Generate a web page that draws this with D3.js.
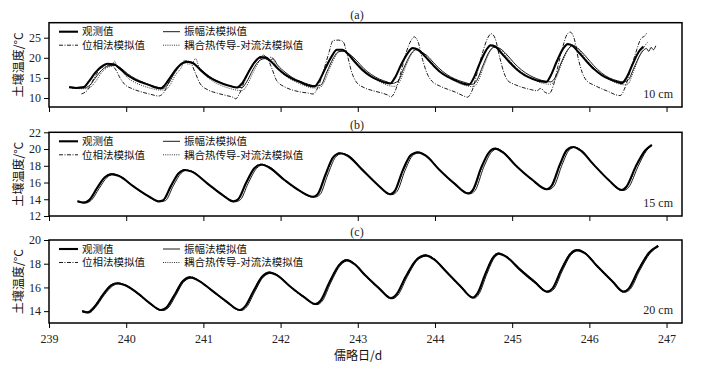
<!DOCTYPE html>
<html>
<head>
<meta charset="utf-8">
<script src="https://cdn.jsdelivr.net/npm/d3@7/dist/d3.min.js"></script>
<style>
  body { margin: 0; background: #fff; }
  svg { display: block; font-family: "Liberation Serif", "Times New Roman", serif; }
  .cn { font-family: "Noto Sans CJK SC", sans-serif; }
</style>
</head>
<body>
<div id="chart"></div>
<script>
// day ticks and series names
const dayTicks = [239, 240, 241, 242, 243, 244, 245, 246, 247];
const seriesNames = ["观测值", "振幅法模拟值", "位相法模拟值", "耦合热传导-对流法模拟值"];

// ---- (a) 10 cm, [day, temperature]
const aObs = [[239.26,12.7],[239.35,12.5],[239.45,12.7],[239.52,14.2],[239.6,16.3],[239.68,17.8],[239.76,18.5],[239.84,18.4],[239.92,17.3],[240.0,15.9],[240.1,14.7],[240.2,13.9],[240.3,13.2],[240.38,12.6],[240.45,12.4],[240.5,13.2],[240.58,15.4],[240.66,17.5],[240.74,18.8],[240.8,19.0],[240.88,18.5],[240.96,17.0],[241.06,15.4],[241.16,14.3],[241.26,13.5],[241.36,12.9],[241.43,12.6],[241.5,13.6],[241.58,16.3],[241.66,18.8],[241.74,20.1],[241.8,20.1],[241.88,19.0],[241.96,17.4],[242.06,15.8],[242.16,14.7],[242.26,13.9],[242.36,13.1],[242.44,12.9],[242.5,14.3],[242.58,17.4],[242.66,20.3],[242.73,22.0],[242.8,22.0],[242.88,20.8],[242.96,19.0],[243.06,17.0],[243.16,15.5],[243.26,14.5],[243.36,13.8],[243.42,13.6],[243.48,15.0],[243.56,18.2],[243.64,21.0],[243.71,22.4],[243.78,22.0],[243.86,20.6],[243.96,18.5],[244.06,16.6],[244.16,15.3],[244.26,14.4],[244.36,13.6],[244.44,13.3],[244.5,14.9],[244.58,18.6],[244.66,21.8],[244.72,23.1],[244.78,22.8],[244.86,21.2],[244.96,19.0],[245.06,17.1],[245.16,15.7],[245.26,14.8],[245.36,14.2],[245.44,14.0],[245.5,15.6],[245.58,19.2],[245.66,22.3],[245.72,23.4],[245.78,23.0],[245.86,21.4],[245.96,19.2],[246.06,17.2],[246.16,15.7],[246.26,14.7],[246.36,14.0],[246.42,13.7],[246.48,15.0],[246.56,18.4],[246.64,21.5],[246.7,22.8]];
const aAmp = [[239.3,12.6],[239.45,12.5],[239.53,13.2],[239.62,15.5],[239.7,17.2],[239.78,18.0],[239.86,18.1],[239.94,17.3],[240.02,16.0],[240.12,14.8],[240.22,13.9],[240.32,13.2],[240.42,12.6],[240.48,12.4],[240.54,13.4],[240.62,16.0],[240.7,18.0],[240.78,18.8],[240.86,18.8],[240.94,17.6],[241.04,15.9],[241.14,14.6],[241.24,13.7],[241.34,13.0],[241.44,12.6],[241.5,12.6],[241.56,14.0],[241.64,17.0],[241.72,19.2],[241.8,19.8],[241.86,19.3],[241.9,19.8],[241.96,18.2],[242.06,16.4],[242.16,15.0],[242.26,14.1],[242.36,13.4],[242.46,13.0],[242.52,13.2],[242.6,16.5],[242.68,19.8],[242.75,21.5],[242.82,21.6],[242.9,20.8],[242.98,19.4],[243.08,17.3],[243.18,15.8],[243.28,14.7],[243.38,14.0],[243.44,13.6],[243.52,14.2],[243.6,17.6],[243.68,20.7],[243.75,22.0],[243.82,21.5],[243.9,20.5],[244.0,18.4],[244.1,16.6],[244.2,15.3],[244.3,14.4],[244.4,13.8],[244.48,13.4],[244.54,14.3],[244.62,18.0],[244.7,21.4],[244.76,22.6],[244.84,22.3],[244.92,21.0],[245.02,18.8],[245.12,17.0],[245.22,15.7],[245.32,14.8],[245.42,14.2],[245.5,14.0],[245.56,15.2],[245.64,19.0],[245.72,22.0],[245.78,23.0],[245.86,22.2],[245.96,20.2],[246.06,18.0],[246.16,16.2],[246.26,15.0],[246.36,14.3],[246.44,14.0],[246.5,14.4],[246.58,17.6],[246.66,20.8],[246.74,22.3],[246.77,21.6],[246.8,22.6],[246.83,22.0],[246.86,23.0]];
const aPha = [[239.42,11.0],[239.5,12.0],[239.58,14.8],[239.66,17.2],[239.74,18.0],[239.8,18.2],[239.86,17.2],[239.92,15.0],[239.98,13.4],[240.08,12.3],[240.2,11.5],[240.32,10.9],[240.42,10.5],[240.48,11.2],[240.56,14.2],[240.64,17.0],[240.72,18.5],[240.78,19.3],[240.84,18.6],[240.9,16.0],[240.96,13.5],[241.06,12.0],[241.18,11.2],[241.3,10.6],[241.38,10.2],[241.42,9.8],[241.46,10.8],[241.54,14.5],[241.62,17.8],[241.7,19.8],[241.77,20.5],[241.83,19.8],[241.89,17.2],[241.95,14.3],[242.05,12.8],[242.15,12.0],[242.26,11.5],[242.36,11.2],[242.42,11.0],[242.48,12.5],[242.56,17.0],[242.63,21.5],[242.68,24.3],[242.75,24.4],[242.81,24.0],[242.86,21.0],[242.92,16.5],[242.98,14.0],[243.08,12.6],[243.2,11.8],[243.3,11.3],[243.38,10.8],[243.43,10.3],[243.49,12.0],[243.56,16.5],[243.63,21.5],[243.69,24.3],[243.73,25.2],[243.78,24.0],[243.84,19.5],[243.9,16.0],[243.96,14.2],[244.06,13.0],[244.16,12.2],[244.26,11.5],[244.36,10.6],[244.42,10.2],[244.48,11.8],[244.55,16.5],[244.62,21.5],[244.68,24.8],[244.73,26.0],[244.78,24.8],[244.84,20.0],[244.89,16.5],[244.94,14.4],[245.04,13.3],[245.14,12.6],[245.24,12.1],[245.32,11.8],[245.37,12.4],[245.42,11.5],[245.48,11.1],[245.54,13.5],[245.6,18.5],[245.66,23.0],[245.71,25.8],[245.75,26.4],[245.8,25.0],[245.86,19.5],[245.91,16.2],[245.96,14.4],[246.06,13.2],[246.16,12.3],[246.26,11.5],[246.34,10.8],[246.4,10.6],[246.46,12.5],[246.53,16.8],[246.6,21.2],[246.67,24.8],[246.72,25.5],[246.74,26.1]];
const aCou = [[239.3,12.4],[239.45,12.3],[239.52,12.5],[239.6,14.0],[239.68,16.3],[239.76,17.6],[239.82,18.0],[239.85,19.2],[239.88,17.8],[239.94,16.8],[240.02,15.0],[240.12,13.8],[240.22,13.0],[240.32,12.4],[240.42,12.0],[240.5,12.0],[240.56,13.0],[240.64,15.8],[240.72,17.8],[240.76,19.5],[240.8,18.4],[240.86,18.8],[240.9,19.8],[240.94,17.8],[241.02,15.8],[241.12,14.2],[241.22,13.2],[241.32,12.5],[241.42,12.0],[241.5,11.8],[241.56,13.0],[241.64,16.2],[241.72,19.0],[241.78,20.8],[241.82,19.6],[241.88,20.2],[241.94,18.0],[242.02,16.2],[242.12,14.8],[242.22,13.8],[242.32,13.0],[242.42,12.5],[242.5,12.5],[242.56,13.8],[242.64,17.5],[242.72,20.7],[242.79,21.8],[242.86,21.4],[242.94,19.8],[243.02,17.8],[243.12,16.0],[243.22,14.7],[243.32,13.7],[243.42,13.0],[243.48,12.9],[243.54,14.0],[243.62,17.8],[243.7,21.0],[243.77,22.2],[243.84,21.3],[243.92,19.5],[244.02,17.4],[244.12,15.8],[244.22,14.6],[244.32,13.6],[244.42,13.0],[244.5,12.8],[244.56,14.2],[244.64,18.3],[244.72,21.8],[244.78,22.8],[244.86,22.0],[244.94,20.0],[245.04,17.8],[245.14,16.2],[245.24,15.0],[245.34,14.0],[245.44,13.5],[245.5,13.4],[245.57,15.0],[245.65,19.0],[245.73,22.2],[245.79,23.2],[245.86,22.2],[245.94,20.0],[246.04,17.8],[246.14,16.0],[246.24,14.8],[246.34,13.8],[246.44,13.3],[246.5,13.5],[246.57,16.5],[246.65,20.5],[246.72,23.0],[246.76,24.0]];

// ---- (b) 15 cm
const bObs = [[239.37,13.75],[239.45,13.6],[239.52,13.9],[239.62,15.3],[239.72,16.6],[239.81,17.0],[239.9,16.8],[240.1,15.5],[240.3,14.3],[240.42,13.75],[240.48,13.9],[240.58,15.6],[240.68,17.1],[240.76,17.5],[240.85,17.3],[241.05,15.9],[241.25,14.5],[241.39,13.75],[241.45,14.0],[241.55,15.9],[241.66,17.7],[241.75,18.15],[241.85,17.8],[242.05,16.3],[242.25,15.0],[242.42,14.3],[242.48,14.6],[242.58,16.9],[242.68,19.0],[242.77,19.5],[242.87,19.2],[243.05,17.6],[243.25,15.8],[243.42,14.6],[243.48,15.0],[243.58,17.4],[243.69,19.3],[243.78,19.6],[243.88,19.2],[244.05,17.6],[244.25,15.9],[244.43,14.7],[244.49,15.1],[244.6,17.8],[244.7,19.6],[244.78,20.05],[244.88,19.6],[245.05,18.0],[245.25,16.4],[245.45,15.2],[245.51,15.6],[245.62,18.2],[245.71,19.9],[245.79,20.25],[245.89,19.8],[246.05,18.2],[246.25,16.3],[246.42,15.1],[246.48,15.5],[246.6,17.9],[246.72,19.8],[246.81,20.5]];
const bAmp = [[239.37,13.7],[239.47,13.55],[239.55,13.9],[239.65,15.3],[239.75,16.6],[239.83,16.95],[239.92,16.75],[240.1,15.5],[240.3,14.3],[240.44,13.7],[240.51,13.85],[240.61,15.6],[240.71,17.1],[240.78,17.45],[240.87,17.25],[241.05,15.9],[241.25,14.5],[241.41,13.7],[241.48,13.95],[241.58,15.9],[241.69,17.7],[241.77,18.1],[241.87,17.8],[242.05,16.3],[242.25,15.0],[242.44,14.25],[242.51,14.55],[242.61,16.9],[242.71,19.0],[242.79,19.45],[242.89,19.15],[243.05,17.6],[243.25,15.8],[243.44,14.55],[243.51,14.95],[243.61,17.4],[243.72,19.3],[243.8,19.55],[243.9,19.15],[244.05,17.6],[244.25,15.9],[244.45,14.65],[244.52,15.05],[244.63,17.8],[244.73,19.6],[244.8,20.0],[244.9,19.55],[245.05,18.0],[245.25,16.4],[245.47,15.15],[245.54,15.55],[245.65,18.2],[245.74,19.9],[245.81,20.2],[245.91,19.75],[246.05,18.2],[246.25,16.3],[246.44,15.05],[246.51,15.45],[246.63,17.9],[246.74,19.8],[246.81,20.4]];
const bPha = [[239.37,13.8],[239.45,13.65],[239.52,13.95],[239.62,15.35],[239.72,16.65],[239.81,17.05],[239.9,16.85],[240.1,15.45],[240.3,14.25],[240.42,13.7],[240.48,13.85],[240.58,15.55],[240.68,17.15],[240.76,17.55],[240.85,17.35],[241.05,15.85],[241.25,14.45],[241.39,13.7],[241.45,13.95],[241.55,15.85],[241.66,17.75],[241.75,18.2],[241.85,17.85],[242.05,16.25],[242.25,14.95],[242.42,14.25],[242.48,14.55],[242.58,16.85],[242.68,19.05],[242.77,19.55],[242.87,19.25],[243.05,17.55],[243.25,15.75],[243.42,14.55],[243.48,14.95],[243.58,17.35],[243.69,19.35],[243.78,19.65],[243.88,19.25],[244.05,17.55],[244.25,15.85],[244.43,14.65],[244.49,15.05],[244.6,17.75],[244.7,19.65],[244.78,20.1],[244.88,19.65],[245.05,17.95],[245.25,16.35],[245.45,15.15],[245.51,15.55],[245.62,18.15],[245.71,19.95],[245.79,20.3],[245.89,19.85],[246.05,18.15],[246.25,16.25],[246.42,15.05],[246.48,15.45],[246.6,17.85],[246.72,19.85],[246.81,20.5]];
const bCou = [[239.37,13.75],[239.46,13.6],[239.53,13.9],[239.63,15.3],[239.73,16.6],[239.82,16.95],[239.91,16.8],[240.1,15.5],[240.3,14.3],[240.43,13.75],[240.49,13.9],[240.59,15.6],[240.69,17.1],[240.77,17.5],[240.86,17.3],[241.05,15.9],[241.25,14.5],[241.4,13.75],[241.46,14.0],[241.56,15.9],[241.67,17.7],[241.76,18.15],[241.86,17.8],[242.05,16.3],[242.25,15.0],[242.43,14.3],[242.49,14.6],[242.59,16.9],[242.69,19.0],[242.78,19.5],[242.88,19.2],[243.05,17.6],[243.25,15.8],[243.43,14.6],[243.49,15.0],[243.59,17.4],[243.7,19.3],[243.79,19.6],[243.89,19.2],[244.05,17.6],[244.25,15.9],[244.44,14.7],[244.5,15.1],[244.61,17.8],[244.71,19.6],[244.79,20.05],[244.89,19.6],[245.05,18.0],[245.25,16.4],[245.46,15.2],[245.52,15.6],[245.63,18.2],[245.72,19.9],[245.8,20.25],[245.9,19.8],[246.05,18.2],[246.25,16.3],[246.43,15.1],[246.49,15.5],[246.61,17.9],[246.73,19.8],[246.81,20.45]];

// ---- (c) 20 cm
const cObs = [[239.43,14.0],[239.5,13.9],[239.58,14.3],[239.7,15.4],[239.8,16.15],[239.88,16.35],[239.98,16.2],[240.15,15.5],[240.3,14.7],[240.45,14.1],[240.52,14.3],[240.62,15.3],[240.73,16.5],[240.83,16.85],[240.93,16.6],[241.1,15.8],[241.3,14.8],[241.47,14.1],[241.54,14.4],[241.65,15.7],[241.76,16.9],[241.86,17.25],[241.96,17.0],[242.12,16.1],[242.3,15.2],[242.45,14.6],[242.52,14.9],[242.63,16.4],[242.76,17.9],[242.86,18.3],[242.95,18.0],[243.1,17.0],[243.28,15.9],[243.43,15.1],[243.5,15.4],[243.62,16.9],[243.77,18.4],[243.88,18.7],[243.98,18.4],[244.15,17.3],[244.33,16.1],[244.49,15.15],[244.55,15.5],[244.65,17.1],[244.75,18.5],[244.82,18.85],[244.92,18.6],[245.1,17.5],[245.3,16.4],[245.45,15.65],[245.52,15.9],[245.63,17.4],[245.75,18.8],[245.84,19.15],[245.94,18.9],[246.1,17.8],[246.3,16.5],[246.44,15.65],[246.51,15.9],[246.63,17.4],[246.77,18.9],[246.89,19.5]];
const cAmp = [[239.43,13.95],[239.52,13.85],[239.6,14.3],[239.72,15.4],[239.82,16.1],[239.9,16.3],[240.0,16.15],[240.15,15.5],[240.3,14.7],[240.47,14.05],[240.54,14.25],[240.64,15.3],[240.75,16.5],[240.85,16.8],[240.95,16.55],[241.1,15.8],[241.3,14.8],[241.49,14.05],[241.56,14.35],[241.67,15.7],[241.78,16.9],[241.88,17.2],[241.98,16.95],[242.12,16.1],[242.3,15.25],[242.47,14.55],[242.54,14.85],[242.65,16.4],[242.78,17.9],[242.88,18.25],[242.97,17.95],[243.1,17.0],[243.28,15.9],[243.45,15.05],[243.52,15.35],[243.64,16.9],[243.79,18.4],[243.9,18.65],[244.0,18.35],[244.15,17.35],[244.33,16.15],[244.51,15.1],[244.57,15.45],[244.67,17.1],[244.77,18.5],[244.84,18.8],[244.94,18.55],[245.1,17.6],[245.3,16.5],[245.47,15.6],[245.54,15.85],[245.65,17.4],[245.77,18.8],[245.86,19.1],[245.96,18.85],[246.1,17.85],[246.3,16.55],[246.46,15.6],[246.53,15.85],[246.65,17.4],[246.79,18.9],[246.9,19.45]];
const cPha = [[239.43,14.05],[239.5,13.95],[239.58,14.35],[239.7,15.45],[239.8,16.2],[239.88,16.4],[239.98,16.25],[240.15,15.45],[240.3,14.65],[240.45,14.05],[240.52,14.25],[240.62,15.35],[240.73,16.55],[240.83,16.9],[240.93,16.65],[241.1,15.75],[241.3,14.75],[241.47,14.05],[241.54,14.35],[241.65,15.75],[241.76,16.95],[241.86,17.3],[241.96,17.05],[242.12,16.05],[242.3,15.15],[242.45,14.55],[242.52,14.85],[242.63,16.45],[242.76,17.95],[242.86,18.35],[242.95,18.05],[243.1,16.95],[243.28,15.85],[243.43,15.05],[243.5,15.35],[243.62,16.95],[243.77,18.45],[243.88,18.75],[243.98,18.45],[244.15,17.25],[244.33,16.05],[244.49,15.1],[244.55,15.45],[244.65,17.15],[244.75,18.55],[244.82,18.9],[244.92,18.65],[245.1,17.45],[245.3,16.35],[245.45,15.6],[245.52,15.85],[245.63,17.45],[245.75,18.85],[245.84,19.2],[245.94,18.95],[246.1,17.75],[246.3,16.45],[246.44,15.6],[246.51,15.85],[246.63,17.45],[246.77,18.95],[246.89,19.55]];
const cCou = [[239.43,14.0],[239.51,13.9],[239.59,14.3],[239.71,15.4],[239.81,16.15],[239.89,16.35],[239.99,16.2],[240.15,15.55],[240.3,14.75],[240.46,14.1],[240.53,14.3],[240.63,15.3],[240.74,16.5],[240.84,16.85],[240.94,16.6],[241.1,15.85],[241.3,14.85],[241.48,14.1],[241.55,14.4],[241.66,15.7],[241.77,16.9],[241.87,17.25],[241.97,17.0],[242.12,16.15],[242.3,15.25],[242.46,14.6],[242.53,14.9],[242.64,16.4],[242.77,17.9],[242.87,18.3],[242.96,18.0],[243.1,17.05],[243.28,15.95],[243.44,15.1],[243.51,15.4],[243.63,16.9],[243.78,18.4],[243.89,18.7],[243.99,18.4],[244.15,17.35],[244.33,16.15],[244.5,15.15],[244.56,15.5],[244.66,17.1],[244.76,18.5],[244.83,18.85],[244.93,18.6],[245.1,17.55],[245.3,16.45],[245.46,15.65],[245.53,15.9],[245.64,17.4],[245.76,18.8],[245.85,19.15],[245.95,18.9],[246.1,17.85],[246.3,16.55],[246.45,15.65],[246.52,15.9],[246.64,17.4],[246.78,18.9],[246.89,19.5]];

// y tick values per panel
const aTicks = [10, 15, 20, 25];
const bTicks = [12, 14, 16, 18, 20, 22];
const cTicks = [14, 16, 18, 20];

const width = 707, height = 371;
const left = 49, right = 682;

const svg = d3.select("#chart").append("svg")
    .attr("width", width)
    .attr("height", height);

const x = d3.scaleLinear().domain([239, 247.2]).range([left, right]);

// line styles: obs, amp, pha, cou
const styles = [
    {w: 2.1, dash: null, color: "#000"},
    {w: 0.9, dash: null, color: "#000"},
    {w: 0.9, dash: "4,1.5,1,1.5", color: "#000"},
    {w: 1, dash: "1,1.2", color: "#333"}
];
const drawOrder = [2, 3, 1, 0];

const panels = [
    {tag: "(a)", depth: "10 cm", top: 22.7, bottom: 107, domain: [7.76, 28.73], ticks: aTicks, data: [aObs, aAmp, aPha, aCou], tagY: 15},
    {tag: "(b)", depth: "15 cm", top: 132.3, bottom: 216, domain: [12, 22], ticks: bTicks, data: [bObs, bAmp, bPha, bCou], tagY: 125},
    {tag: "(c)", depth: "20 cm", top: 240, bottom: 323, domain: [13, 20], ticks: cTicks, data: [cObs, cAmp, cPha, cCou], tagY: 232}
];

panels.forEach(function (p, i) {
    const y = d3.scaleLinear().domain(p.domain).range([p.bottom, p.top]);
    const g = svg.append("g");

    const clipId = "clip" + i;
    svg.append("clipPath").attr("id", clipId)
        .append("rect")
        .attr("x", left).attr("y", p.top)
        .attr("width", right - left).attr("height", p.bottom - p.top);

    const line = d3.line()
        .x(d => x(d[0]))
        .y(d => y(d[1]))
        .curve(d3.curveMonotoneX);

    // series
    const lines = g.append("g").attr("clip-path", `url(#${clipId})`);
    drawOrder.forEach(function (k) {
        lines.append("path")
            .datum(p.data[k])
            .attr("fill", "none")
            .attr("stroke", styles[k].color)
            .attr("stroke-width", styles[k].w)
            .attr("stroke-dasharray", styles[k].dash)
            .attr("stroke-linejoin", "round")
            .attr("d", line);
    });

    // y axis
    const yAxis = g.append("g")
        .attr("transform", `translate(${left},0)`)
        .call(d3.axisLeft(y).tickValues(p.ticks).tickFormat(d3.format("d")).tickSize(5).tickPadding(3));
    yAxis.select(".domain").remove();
    yAxis.selectAll("line").attr("stroke-width", 1);
    yAxis.selectAll("text").attr("font-size", 12).attr("font-family", "Liberation Serif").attr("fill", "#222");

    // x axis (labels only on the last panel)
    const xAxis = g.append("g")
        .attr("transform", `translate(0,${p.bottom})`)
        .call(d3.axisBottom(x).tickValues(dayTicks).tickSize(5).tickPadding(6).tickFormat(d3.format("d")));
    xAxis.select(".domain").remove();
    xAxis.selectAll("line").attr("stroke-width", 1);
    if (i < 2) {
        xAxis.selectAll("text").remove();
    } else {
        xAxis.selectAll("text").attr("font-size", 12).attr("font-family", "Liberation Serif").attr("fill", "#222");
    }

    // frame
    g.append("rect")
        .attr("x", left).attr("y", p.top)
        .attr("width", right - left).attr("height", p.bottom - p.top)
        .attr("fill", "none")
        .attr("stroke", "#000")
        .attr("stroke-width", 1.5);

    // legend
    const legendRows = [p.top + 9, p.top + 22.5];
    const legendCols = [[59, 78, 82], [163, 180, 184]];
    seriesNames.forEach(function (name, k) {
        const col = legendCols[k % 2];
        const row = legendRows[Math.floor(k / 2)];
        g.append("line")
            .attr("x1", col[0]).attr("x2", col[1])
            .attr("y1", row).attr("y2", row)
            .attr("stroke", styles[k].color)
            .attr("stroke-width", styles[k].w)
            .attr("stroke-dasharray", styles[k].dash);
        g.append("text")
            .attr("class", "cn")
            .attr("x", col[2]).attr("y", row)
            .attr("dy", "0.36em")
            .attr("font-size", 10.5)
            .attr("fill", "#111")
            .text(name);
    });

    // depth label
    g.append("text")
        .attr("x", 673).attr("y", p.bottom - 13)
        .attr("dy", "0.35em")
        .attr("text-anchor", "end")
        .attr("font-size", 12)
        .attr("fill", "#222")
        .text(p.depth);

    // panel tag
    svg.append("text")
        .attr("x", 357).attr("y", p.tagY)
        .attr("dy", "0.35em")
        .attr("text-anchor", "middle")
        .attr("font-size", 12)
        .attr("fill", "#222")
        .text(p.tag);

    // y title
    svg.append("text")
        .attr("class", "cn")
        .attr("transform", `translate(19,${(p.top + p.bottom) / 2}) rotate(-90)`)
        .attr("text-anchor", "middle")
        .attr("dy", "0.35em")
        .attr("font-size", 12)
        .attr("fill", "#111")
        .text("土壤温度/°C");
});

// x title
svg.append("text")
    .attr("class", "cn")
    .attr("x", 358).attr("y", 356)
    .attr("dy", "0.35em")
    .attr("text-anchor", "middle")
    .attr("font-size", 12)
    .attr("fill", "#111")
    .text("儒略日/d");
</script>
</body>
</html>
